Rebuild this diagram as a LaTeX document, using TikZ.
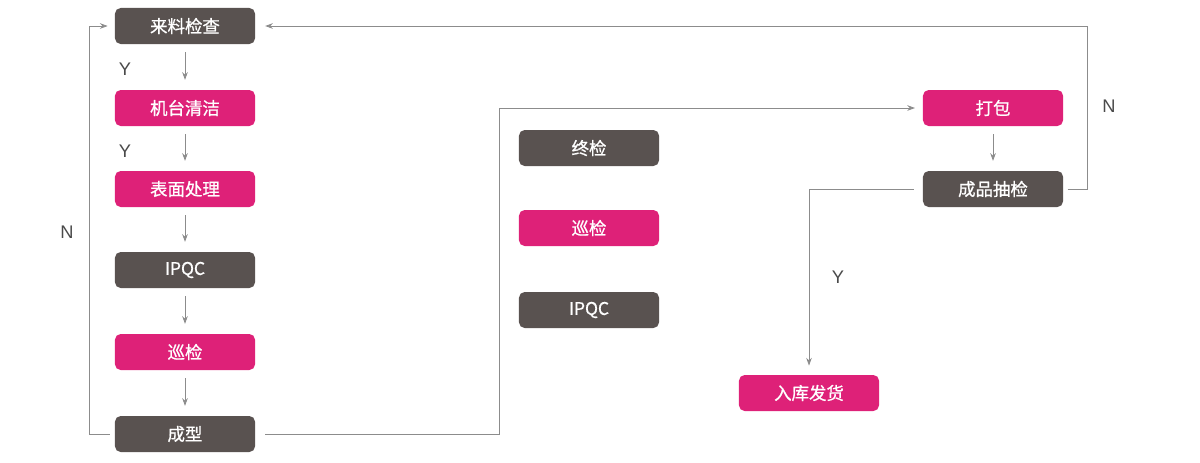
\documentclass[tikz,border=0pt]{standalone}
\usepackage{fontspec}
\setsansfont{Liberation Sans}
\newfontfamily\cjk{Noto Sans CJK SC}[FakeBold=0.9]
\usetikzlibrary{arrows.meta}
\definecolor{boxgray}{HTML}{595250}
\definecolor{boxpink}{HTML}{DE2178}
\definecolor{linegray}{HTML}{8C8C8C}
\definecolor{labelgray}{HTML}{4A4A4A}
\tikzset {>={Stealth[length=5.5pt,width=4pt]}}
\tikzset{
  block/.style={rounded corners=4pt,minimum width=3.5cm,minimum height=0.9cm,
    inner sep=0pt,text=white,font=\cjk\fontsize{12.4}{14}\selectfont},
  grayblock/.style={block,fill=boxgray},
  pinkblock/.style={block,fill=boxpink},
  link/.style={draw=linegray,line width=0.6pt},
  yn/.style={text=labelgray,font=\sffamily\fontsize{13}{15}\selectfont}
}

\begin{document}
\begin{tikzpicture}[x=0.025cm,y=-0.025cm]
\useasboundingbox (0,0) rectangle (1200,462);

% left column
\node[grayblock] (incoming) at (185,26) {来料检查};
\node[pinkblock] (clean) at (185,108) {机台清洁};
\node[pinkblock] (surface) at (185,189) {表面处理};
\node[grayblock] (ipqcA) at (185,270) {IPQC};
\node[pinkblock] (patrolA) at (185,352) {巡检};
\node[grayblock] (form) at (185,434) {成型};

% middle column
\node[grayblock] (final) at (589,148) {终检};
\node[pinkblock] (patrolB) at (589,228) {巡检};
\node[grayblock] (ipqcB) at (589,310) {IPQC};

% right column
\node[pinkblock] (pack) at (993,108) {打包};
\node[grayblock] (check) at (993,189) {成品抽检};
\node[pinkblock] (store) at (809,393) {入库发货};

\coordinate (turnA) at (499,434);
\coordinate (turnB) at (1087,189);

\draw[->,link,shorten <=5.5pt,shorten >=7pt] (incoming) -- (clean);
\draw[->,link,shorten <=5.5pt,shorten >=7pt] (clean) -- (surface);
\draw[->,link,shorten <=5.5pt,shorten >=7pt] (surface) -- (ipqcA);
\draw[->,link,shorten <=5.5pt,shorten >=7pt] (ipqcA) -- (patrolA);
\draw[->,link,shorten <=5.5pt,shorten >=7pt] (patrolA) -- (form);
\draw[->,link,shorten <=5.5pt,shorten >=7pt] (pack) -- (check);

\draw[->,link,shorten <=3.5pt,shorten >=5pt] (form.west) -- ++(-25,0) |- (incoming.west);
\draw[->,link,shorten <=7pt,shorten >=5.5pt] (form.east) -- (turnA) |- (pack.west);
\draw[->,link,shorten <=3pt,shorten >=7pt] (check.east) -- (turnB) |- (incoming.east);
\draw[->,link,shorten <=6.5pt,shorten >=6.5pt] (check.west) -| (store.north);

\node[yn] (y1) at (125,69) {Y};
\node[yn] (y2) at (125,151) {Y};
\node[yn] (n1) at (67,232) {N};
\node[yn] (n2) at (1109,106) {N};
\node[yn] (y3) at (838,277) {Y};
\end{tikzpicture}
\end{document}
